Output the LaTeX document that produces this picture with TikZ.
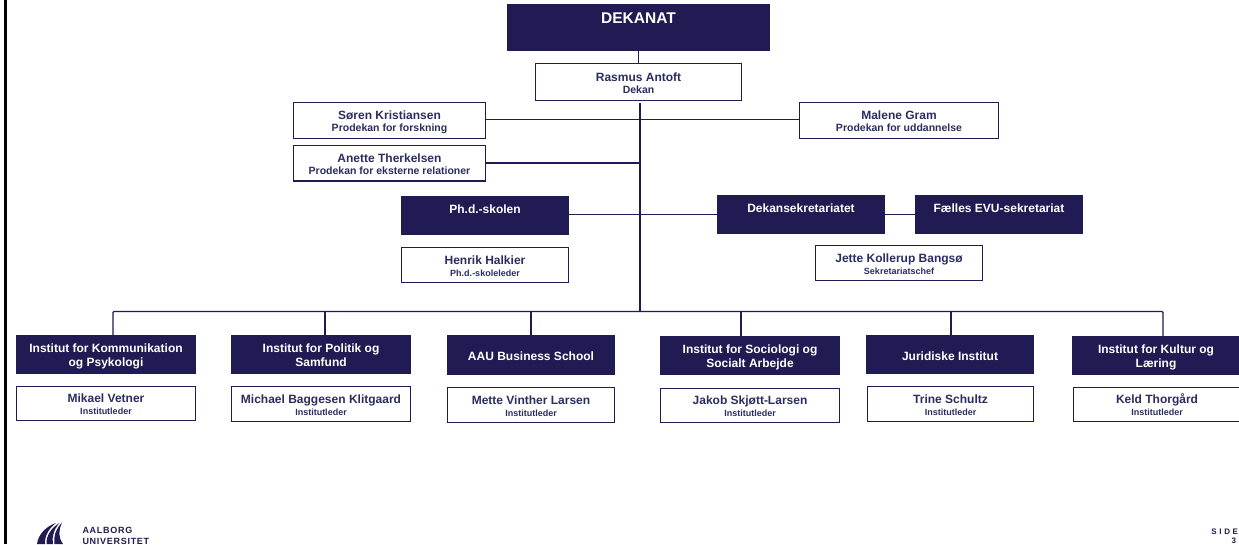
\documentclass[tikz,border=0pt]{standalone}
\usepackage{fontspec}
\setmainfont{Liberation Sans}
\newfontfamily\logofont[LetterSpace=8]{Liberation Sans}
\newfontfamily\sidefont[LetterSpace=33]{Liberation Sans}
\definecolor{navy}{HTML}{211B54}
\definecolor{inkname}{HTML}{2A2D60}
\newcommand{\who}[3]{\fontsize{12}{13}\selectfont\rule{0pt}{13.6pt}#1\\\fontsize{#2}{13}\selectfont #3\rule[-3pt]{0pt}{3pt}}
\newcommand{\twol}[2]{\rule{0pt}{12.2pt}#1\\#2\rule[-3pt]{0pt}{3pt}}
\newcommand{\one}[2]{\raisebox{#1}[0pt][0pt]{#2}}
\newcommand{\bx}[7]{\node[#1,minimum width={(#5-#3)*1pt},minimum height={(#6-#4)*1pt}] (#2) at ({(#3+#5)/2},{(#4+#6)/2}) {#7};}
\newcommand{\lx}[6]{\node[lightbox,minimum width={(#4-#2-1.4)*1pt},minimum height={(#5-#3-1.4)*1pt}] (#1) at ({(#2+#4)/2},{(#3+#5)/2}) {#6};}
\tikzset{
  darkbox/.style={fill=navy,text=white,font=\fontsize{12}{14}\selectfont\bfseries,align=center,inner sep=0pt,outer sep=0pt},
  lightbox/.style={draw=navy,line width=1.4pt,fill=white,text=inkname,font=\bfseries,align=center,inner sep=0pt,outer sep=0pt},
  link/.style={draw=navy,line width=1.4pt},
  plain/.style={inner sep=0pt,outer sep=0pt,text=navy}
}
\begin{document}
\begin{tikzpicture}[x=1pt,y=-1pt]
\clip (0,0) rectangle (1239,544);
\fill[white] (0,0) rectangle (1239,544);
\fill[black] (4,0) rectangle (7,544);
% top
\bx{darkbox}{dek}{507}{4}{770}{51}{\fontsize{15.5}{19}\selectfont\one{4pt}{DEKANAT}}
\lx{ras}{535}{63}{742}{101}{\who{Rasmus Antoft}{10.5}{Dekan}}
\lx{soren}{293}{102}{486}{139}{\who{Søren Kristiansen}{10.5}{Prodekan for forskning}}
\lx{malene}{799}{102}{999}{139}{\who{Malene Gram}{10.5}{Prodekan for uddannelse}}
\lx{anette}{293}{144.5}{486}{181.5}{\who{Anette Therkelsen}{10.5}{Prodekan for eksterne relationer}}
% middle
\bx{darkbox}{phd}{401}{196}{569}{235}{\one{2.2pt}{Ph.d.-skolen}}
\bx{darkbox}{sek}{717}{195}{885}{234}{\one{2.2pt}{Dekansekretariatet}}
\bx{darkbox}{evu}{915}{195}{1083}{234}{\one{2.2pt}{Fælles EVU-sekretariat}}
\lx{henrik}{401}{247}{569}{283}{\who{Henrik Halkier}{9}{Ph.d.-skoleleder}}
\lx{jette}{815}{245}{983}{281}{\who{Jette Kollerup Bangsø}{9}{Sekretariatschef}}
% institutes
\bx{darkbox}{ia}{16}{335}{196}{374}{\twol{Institut for Kommunikation}{og Psykologi}}
\bx{darkbox}{ib}{231}{335}{411}{374}{\twol{Institut for Politik og}{Samfund}}
\bx{darkbox}{ic}{447}{335}{615}{375}{\one{-5.3pt}{AAU Business School}}
\bx{darkbox}{id}{660}{336}{840}{375}{\twol{Institut for Sociologi og}{Socialt Arbejde}}
\bx{darkbox}{ie}{866}{335}{1034}{374}{\one{-5.7pt}{Juridiske Institut}}
\bx{darkbox}{if}{1072}{336}{1240}{375}{\twol{Institut for Kultur og}{Læring}}
\lx{la}{16}{386}{196}{421}{\who{Mikael Vetner}{9}{Institutleder}}
\lx{lb}{231}{386}{411}{422}{\who{Michael Baggesen Klitgaard}{9}{Institutleder}}
\lx{lc}{447}{387}{615}{423}{\who{Mette Vinther Larsen}{9}{Institutleder}}
\lx{ld}{660}{388}{840}{423}{\who{Jakob Skjøtt-Larsen}{9}{Institutleder}}
\lx{le}{867}{386}{1034}{422}{\who{Trine Schultz}{9}{Institutleder}}
\lx{lf}{1073}{387}{1241}{422}{\who{Keld Thorgård}{9}{Institutleder}}
% rails
\coordinate (top) at (640,103);
\coordinate (rail) at (640,119.5);
\coordinate (trunk) at (640,311.5);
\coordinate (ba) at (113,311.5);
\coordinate (bb) at (325,311.5);
\coordinate (bc) at (531,311.5);
\coordinate (bd) at (741,311.5);
\coordinate (be) at (951,311.5);
\coordinate (bf) at (1163,311.5);
% connectors
\draw[link] (dek.south) -- (ras.north);
\draw[link] (top) -- (trunk);
\draw[link] (soren.east |- rail) -- (malene.west |- rail);
\draw[link] (anette.east) -- (anette.east -| trunk);
\draw[link] (phd.east |- sek.west) -- (sek.west);
\draw[link] (sek.east) -- (evu.west);
\draw[link,rounded corners=1pt] (ia.north -| ba) -- (ba) -- (bf) -- (if.north -| bf);
\draw[link] (bb) -- (ib.north -| bb);
\draw[link] (bc) -- (ic.north -| bc);
\draw[link] (bd) -- (id.north -| bd);
\draw[link] (be) -- (ie.north -| be);
% logo
\fill[navy] (37,544) .. controls (38.5,534) and (46,526.5) .. (56,523) .. controls (49,528) and (44.5,536) .. (45,544) -- cycle;
\fill[navy] (46.5,544) .. controls (46,536) and (51,528) .. (59.5,523) .. controls (54,529) and (51.5,537) .. (53,544) -- cycle;
\fill[navy] (54.5,544) .. controls (53.5,536) and (56,528) .. (62,523) .. controls (58.5,530) and (58,537) .. (63,544) -- cycle;
\node[plain,anchor=base west,font=\logofont\fontsize{9}{10}\selectfont\bfseries] (aal) at (82.5,533.5) {AALBORG};
\node[plain,anchor=base west,font=\logofont\fontsize{9}{10}\selectfont\bfseries] (uni) at (82.5,544.5) {UNIVERSITET};
\node[plain,anchor=base east,font=\sidefont\fontsize{8}{9}\selectfont\bfseries] (side) at (1238,534) {SIDE};
\node[plain,anchor=base east,font=\fontsize{8}{9}\selectfont\bfseries] (num) at (1236,543) {3};
\end{tikzpicture}
\end{document}
